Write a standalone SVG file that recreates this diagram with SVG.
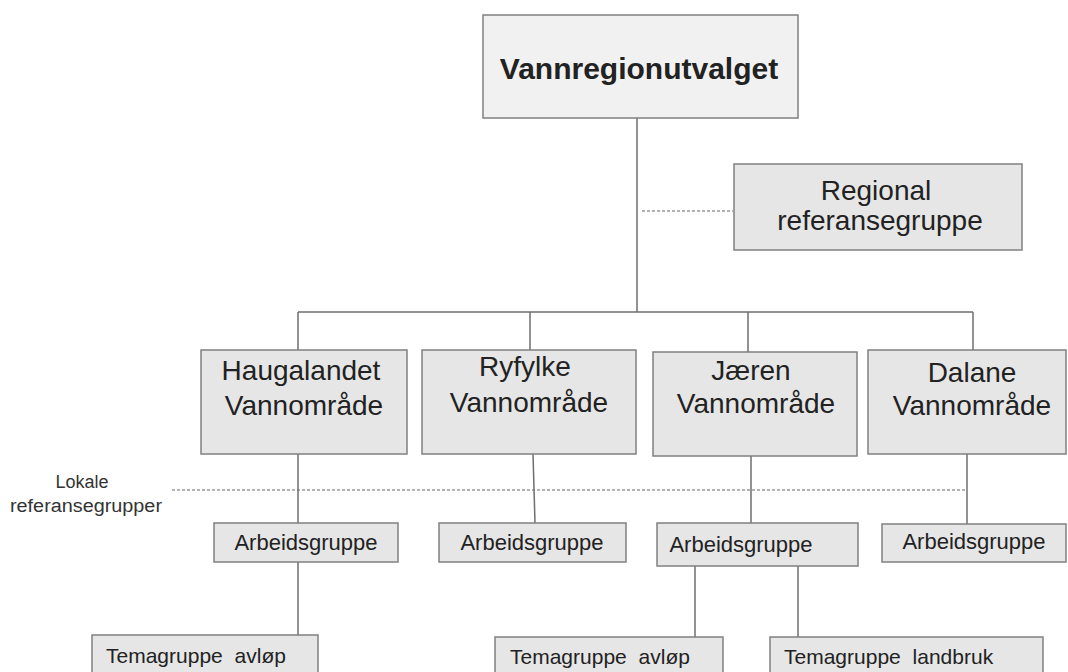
<svg xmlns="http://www.w3.org/2000/svg" width="1068" height="672" viewBox="0 0 1068 672">
<style>
.box{fill:#e6e6e6;stroke:#808080;stroke-width:1.5}
.top{fill:#f1f1f1;stroke:#808080;stroke-width:1.5}
.ln{stroke:#6e6e6e;stroke-width:1.5;fill:none}
.dash{stroke:#9a9a9a;stroke-width:1.5;stroke-dasharray:3,2;fill:none}
text{font-family:"Liberation Sans",Arial,sans-serif;fill:#222}
.big{font-size:28px;text-anchor:middle}
.title{font-size:30px;font-weight:bold;text-anchor:middle}
.ag{font-size:22px;text-anchor:middle}
.tg{font-size:21px;word-spacing:6px}
.lok{font-size:18px;text-anchor:middle;fill:#333}
</style>
<rect width="1068" height="672" fill="#ffffff"/>
<g id="connectors">
<line class="ln" x1="637" y1="118" x2="637" y2="312"/>
<line class="ln" x1="298" y1="312" x2="973" y2="312"/>
<line class="ln" x1="298" y1="312" x2="298" y2="350"/>
<line class="ln" x1="530" y1="312" x2="530" y2="350"/>
<line class="ln" x1="748" y1="312" x2="748" y2="352"/>
<line class="ln" x1="973" y1="312" x2="973" y2="350"/>
<line class="dash" x1="642" y1="211" x2="733" y2="211"/>
<line class="dash" x1="172" y1="490" x2="967" y2="490"/>
<line class="ln" x1="298" y1="454" x2="298" y2="523"/>
<line class="ln" x1="298" y1="562" x2="298" y2="635"/>
<line class="ln" x1="533" y1="454" x2="535" y2="523"/>
<line class="ln" x1="751" y1="456" x2="751" y2="523"/>
<line class="ln" x1="967" y1="454" x2="967" y2="524"/>
<line class="ln" x1="695" y1="566" x2="695" y2="637"/>
<line class="ln" x1="798" y1="566" x2="798" y2="637"/>
</g>
<g id="vannregionutvalget">
<rect class="top" x="483" y="15" width="315" height="103"/>
<text class="title" x="639" y="79">Vannregionutvalget</text>
</g>
<g id="regional">
<rect class="box" x="734" y="164" width="288" height="86"/>
<text class="big" x="876" y="200">Regional</text>
<text class="big" x="880" y="230">referansegruppe</text>
</g>
<g id="haugalandet">
<rect class="box" x="201" y="350" width="206" height="104"/>
<text class="big" x="301" y="380">Haugalandet</text>
<text class="big" x="304" y="415">Vannområde</text>
</g>
<g id="ryfylke">
<rect class="box" x="422" y="350" width="214" height="104"/>
<text class="big" x="525" y="376">Ryfylke</text>
<text class="big" x="529" y="412">Vannområde</text>
</g>
<g id="jaeren">
<rect class="box" x="653" y="352" width="204" height="104"/>
<text class="big" x="751" y="380">Jæren</text>
<text class="big" x="756" y="413">Vannområde</text>
</g>
<g id="dalane">
<rect class="box" x="868" y="350" width="198" height="104"/>
<text class="big" x="972" y="382">Dalane</text>
<text class="big" x="972" y="415">Vannområde</text>
</g>
<g id="lokale">
<text class="lok" x="82" y="488">Lokale</text>
<text class="lok" x="86" y="512" textLength="152" lengthAdjust="spacingAndGlyphs">referansegrupper</text>
</g>
<g id="ag-haugalandet">
<rect class="box" x="214" y="523" width="184" height="39"/>
<text class="ag" x="306" y="550">Arbeidsgruppe</text>
</g>
<g id="ag-ryfylke">
<rect class="box" x="439" y="523" width="187" height="39"/>
<text class="ag" x="532" y="550">Arbeidsgruppe</text>
</g>
<g id="ag-jaeren">
<rect class="box" x="657" y="523" width="201" height="43"/>
<text class="ag" x="741" y="552">Arbeidsgruppe</text>
</g>
<g id="ag-dalane">
<rect class="box" x="882" y="524" width="184" height="38"/>
<text class="ag" x="974" y="549">Arbeidsgruppe</text>
</g>
<g id="tg-haugalandet">
<rect class="box" x="92" y="635" width="226" height="45"/>
<text class="tg" x="106" y="663">Temagruppe avløp</text>
</g>
<g id="tg-jaeren-avlop">
<rect class="box" x="495" y="637" width="228" height="45"/>
<text class="tg" x="510" y="664">Temagruppe avløp</text>
</g>
<g id="tg-jaeren-landbruk">
<rect class="box" x="770" y="637" width="273" height="45"/>
<text class="tg" x="784" y="664">Temagruppe landbruk</text>
</g>
</svg>
